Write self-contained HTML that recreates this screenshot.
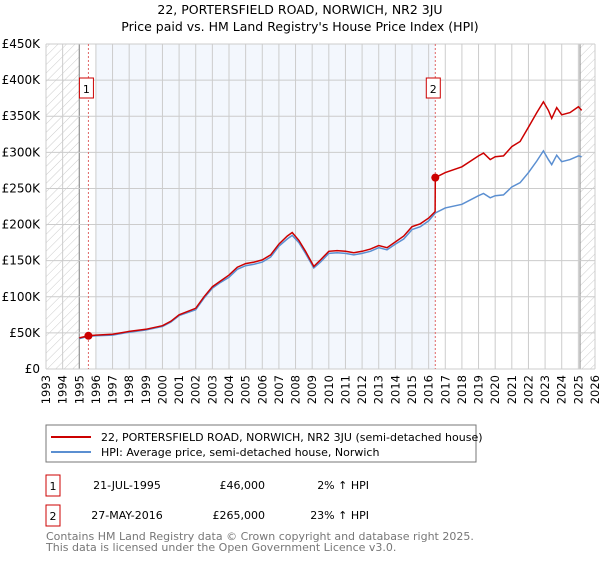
<!DOCTYPE html>
<html><head><meta charset="utf-8"><style>
body{margin:0;background:#fff;font-family:"Liberation Sans","DejaVu Sans",sans-serif;}
svg text{font-family:"DejaVu Sans","Liberation Sans",sans-serif;}
</style></head><body>
<svg id="c" width="600" height="560" xmlns="http://www.w3.org/2000/svg">
<defs><pattern id="hatch" width="6" height="6" patternUnits="userSpaceOnUse" patternTransform="rotate(45)"><line x1="0" y1="0" x2="0" y2="6" stroke="#ccc" stroke-width="1"/></pattern></defs>
<text x="300" y="14" text-anchor="middle" font-size="12.5" fill="#000">22, PORTERSFIELD ROAD, NORWICH, NR2 3JU</text>
<text x="300" y="31" text-anchor="middle" font-size="12.5" fill="#000">Price paid vs. HM Land Registry's House Price Index (HPI)</text>
<g id="plot"></g>
<g>
<rect x="46" y="425" width="430" height="37" fill="#fff" stroke="#777"/>
<line x1="51" y1="437" x2="91" y2="437" stroke="#cc0000" stroke-width="2"/>
<text x="101" y="441" font-size="11">22, PORTERSFIELD ROAD, NORWICH, NR2 3JU (semi-detached house)</text>
<line x1="51" y1="452" x2="91" y2="452" stroke="#5b8fd1" stroke-width="2"/>
<text x="101" y="456" font-size="11">HPI: Average price, semi-detached house, Norwich</text>
</g>
<g font-size="11">
<rect x="46" y="475" width="14" height="21" fill="none" stroke="#cc0000"/><text x="53" y="490" text-anchor="middle">1</text>
<text x="127" y="489" text-anchor="middle">21-JUL-1995</text><text x="265" y="489" text-anchor="end">£46,000</text><text x="369" y="489" text-anchor="end">2% ↑ HPI</text>
<rect x="46" y="505" width="14" height="21" fill="none" stroke="#cc0000"/><text x="53" y="520" text-anchor="middle">2</text>
<text x="127" y="519" text-anchor="middle">27-MAY-2016</text><text x="265" y="519" text-anchor="end">£265,000</text><text x="369" y="519" text-anchor="end">23% ↑ HPI</text>
</g>
<text x="46" y="540" font-size="11" fill="#777">Contains HM Land Registry data © Crown copyright and database right 2025.</text>
<text x="46" y="551" font-size="11" fill="#777">This data is licensed under the Open Government Licence v3.0.</text>
</svg>
<script>
const hpiYears=[1995,1995.5,1996,1997,1998,1999,2000,2000.5,2001,2002,2002.5,2003,2003.5,2004,2004.5,2005,2005.5,2006,2006.5,2007,2007.5,2007.8,2008.2,2008.6,2009.1,2009.5,2010,2010.5,2011,2011.5,2012,2012.5,2013,2013.5,2014,2014.5,2015,2015.5,2016,2016.4,2017,2018,2019,2019.3,2019.7,2020,2020.5,2021,2021.5,2022,2022.5,2022.9,2023.2,2023.4,2023.7,2024,2024.5,2025,2025.2];
const hpiValues=[42,45,46,47,51,54,59,65,74,82,98,112,120,127,138,143,145,148,155,170,180,185,175,160,140,148,160,161,160,158,160,163,168,165,173,180,193,197,205,216,223,228,240,243,237,240,241,252,258,272,288,302,290,283,296,287,290,295,294];
const priceYears=[1995,1995.55,1996,1997,1998,1999,2000,2000.5,2001,2002,2002.5,2003,2003.5,2004,2004.5,2005,2005.5,2006,2006.5,2007,2007.5,2007.8,2008.2,2008.6,2009.1,2009.5,2010,2010.5,2011,2011.5,2012,2012.5,2013,2013.5,2014,2014.5,2015,2015.5,2016,2016.39,2016.4,2017,2018,2019,2019.3,2019.7,2020,2020.5,2021,2021.5,2022,2022.5,2022.9,2023.2,2023.4,2023.7,2024,2024.5,2025,2025.2];
const priceValues=[43,46,47,48,52,55,60,66,75,84,100,114,122,130,141,146,148,151,158,173,184,189,178,163,142,151,163,164,163,161,163,166,171,168,176,184,197,201,209,218,265,272,280,295,299,290,294,295,308,315,335,355,370,358,347,362,352,355,363,358];
const yTicks=[0,50,100,150,200,250,300,350,400,450];
const yTickLabels=["£0","£50K","£100K","£150K","£200K","£250K","£300K","£350K","£400K","£450K"];
const xTicks=[1993,1994,1995,1996,1997,1998,1999,2000,2001,2002,2003,2004,2005,2006,2007,2008,2009,2010,2011,2012,2013,2014,2015,2016,2017,2018,2019,2020,2021,2022,2023,2024,2025,2026];
const sales=[{label:"1",year:1995.55,value:46},{label:"2",year:2016.4,value:265}];
const L=46,R=595,T=44,B=369;
const x=v=>L+(v-1993)/(2026-1993)*(R-L);
const y=v=>B-v/450*(B-T);
const NS="http://www.w3.org/2000/svg";
const g=document.getElementById('plot');
function mk(t,a){const e=document.createElementNS(NS,t);for(const k in a)e.setAttribute(k,a[k]);g.appendChild(e);return e;}
let e;
e=mk('rect',{x:L,y:T,width:R-L,height:B-T,fill:'#fff'});


e=mk('rect',{x:x(1996),y:T,width:x(2016.4)-x(1996),height:B-T,fill:'#eef3fc',opacity:0.7});


e=mk('rect',{x:L,y:T,width:x(1995)-L,height:B-T,fill:'url(#hatch)'});


e=mk('rect',{x:x(2025.1),y:T,width:R-x(2025.1),height:B-T,fill:'url(#hatch)'});


xTicks.forEach(v=>{
 e=mk('line',{x1:x(v),x2:x(v),y1:T,y2:B,stroke:'#ccc','stroke-width':1});
 
 
 e=mk('text',{x:0,y:0,'font-size':11.5,'text-anchor':'end',transform:`translate(${x(v)+4},${B+6}) rotate(-90)`});
 e.textContent=v;
 
 
});
[x(1995),x(2025.1)].forEach(xx=>{e=mk('line',{x1:xx,x2:xx,y1:T,y2:B,stroke:'#888','stroke-width':1});
 
 });
yTicks.forEach((v,i)=>{
 e=mk('line',{x1:L,x2:R,y1:y(v),y2:y(v),stroke:'#ccc','stroke-width':1});
 
 
 e=mk('text',{x:L-6,y:y(v)+4,'font-size':12,'text-anchor':'end'});
 e.textContent=yTickLabels[i];
 
 
});
sales.forEach(s=>{
 e=mk('line',{x1:x(s.year),x2:x(s.year),y1:T,y2:B,stroke:'#e06666','stroke-width':1,'stroke-dasharray':'2,2'});
 
 
});
const pts=(xs,vs)=>xs.map((v,i)=>x(v).toFixed(1)+','+y(vs[i]).toFixed(1)).join(' ');
e=mk('polyline',{points:pts(hpiYears,hpiValues),fill:'none',stroke:'#5b8fd1','stroke-width':1.5});


e=mk('polyline',{points:pts(priceYears,priceValues),fill:'none',stroke:'#cc0000','stroke-width':1.5});


sales.forEach(s=>{
 e=mk('circle',{cx:x(s.year),cy:y(s.value),r:4,fill:'#cc0000'});
 
 
 e=mk('rect',{x:x(s.year)-9,y:T+34,width:14,height:20,fill:'#fff',stroke:'#cc0000'});
 
 
 e=mk('text',{x:x(s.year)-2,y:T+49,'font-size':11,'text-anchor':'middle'});
 e.textContent=s.label;
 
 
});
</script>
</body></html>
